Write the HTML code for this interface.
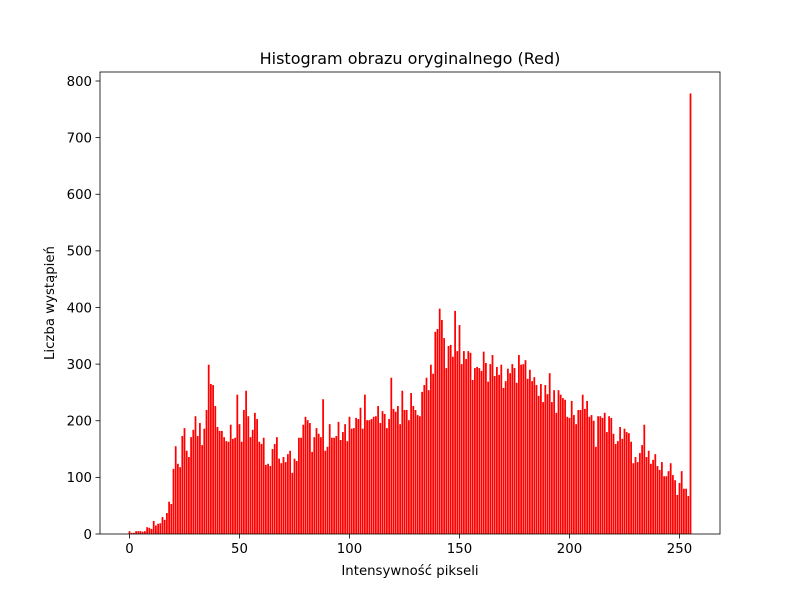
<!DOCTYPE html>
<html><head><meta charset="utf-8"><style>
body{margin:0;background:#fff}
svg text{font-family:"DejaVu Sans","Liberation Sans",sans-serif;fill:#000}
</style></head><body>
<svg id="chart" width="800" height="600" xmlns="http://www.w3.org/2000/svg">
<rect width="800" height="600" fill="#fff"/>
<g id="bars"></g>
<g id="axes"></g>
<text x="410" y="64" font-size="16" text-anchor="middle">Histogram obrazu oryginalnego (Red)</text>
<text x="410" y="575" font-size="13.3" text-anchor="middle">Intensywność pikseli</text>
<text x="54" y="303" font-size="13.3" text-anchor="middle" transform="rotate(-90 54 303)">Liczba wystąpień</text>
</svg>
<script>
const counts = [5,2,2,5,5,5,4,5,12,11,9,23,15,18,19,30,25,37,57,53,115,155,124,118,173,187,147,136,171,184,208,173,196,157,186,219,299,265,263,226,189,182,182,171,164,163,193,168,170,246,194,163,219,253,208,171,184,214,203,163,159,170,122,124,120,150,159,171,133,125,136,127,141,147,108,133,129,170,170,193,207,201,196,145,171,187,177,171,238,147,154,194,170,170,173,198,166,180,194,164,207,186,187,205,203,223,186,246,201,201,203,207,208,226,196,217,212,187,203,276,221,216,226,194,253,219,219,201,249,226,219,210,208,251,263,276,254,299,283,357,362,398,378,346,293,332,334,313,394,323,369,300,323,309,323,320,272,293,295,293,288,322,302,269,300,316,279,295,281,299,258,270,292,284,300,293,267,316,299,300,307,274,290,270,277,263,244,265,233,263,247,284,233,254,214,254,246,240,237,207,205,235,210,194,219,219,246,221,235,207,210,200,154,208,208,205,214,180,208,205,177,159,164,189,168,186,180,178,163,125,136,127,143,157,193,136,147,124,131,141,120,113,127,102,102,111,125,104,95,69,90,111,80,80,67,778];
const xTicks = [0,50,100,150,200,250];
const yTicks = [0,100,200,300,400,500,600,700,800];
const NS="http://www.w3.org/2000/svg";
const L=100,R=720,T=72,B=534;
const xs=v=>129.5+v*2.2;
const ys=v=>534-v*(453/800);
const bars=document.getElementById('bars');
counts.forEach((c,i)=>{
  const r=document.createElementNS(NS,'rect');
  
  
  r.setAttribute('x',xs(i-0.4));
  r.setAttribute('width',2.2*0.8);
  r.setAttribute('y',ys(c));
  r.setAttribute('height',B-ys(c));
  r.setAttribute('fill','#ff0000');
  bars.appendChild(r);
});
const ax=document.getElementById('axes');
const frame=document.createElementNS(NS,'rect');


frame.setAttribute('x',L);frame.setAttribute('y',T);
frame.setAttribute('width',R-L);frame.setAttribute('height',B-T);
frame.setAttribute('fill','none');frame.setAttribute('stroke','#000');frame.setAttribute('stroke-width','0.8');
ax.appendChild(frame);
xTicks.forEach(t=>{
  const l=document.createElementNS(NS,'line');
  
  
  l.setAttribute('x1',xs(t));l.setAttribute('x2',xs(t));l.setAttribute('y1',B);l.setAttribute('y2',B+4.5);
  l.setAttribute('stroke','#000');l.setAttribute('stroke-width','0.8');
  ax.appendChild(l);
  const tx=document.createElementNS(NS,'text');
  
  
  tx.setAttribute('x',xs(t));tx.setAttribute('y',B+19);
  tx.setAttribute('font-size','13.3');tx.setAttribute('text-anchor','middle');
  tx.textContent=t;ax.appendChild(tx);
});
yTicks.forEach(t=>{
  const l=document.createElementNS(NS,'line');
  
  
  l.setAttribute('x1',L-4.5);l.setAttribute('x2',L);l.setAttribute('y1',ys(t));l.setAttribute('y2',ys(t));
  l.setAttribute('stroke','#000');l.setAttribute('stroke-width','0.8');
  ax.appendChild(l);
  const tx=document.createElementNS(NS,'text');
  
  
  tx.setAttribute('x',L-8);tx.setAttribute('y',ys(t)+4.8);
  tx.setAttribute('font-size','13.3');tx.setAttribute('text-anchor','end');
  tx.textContent=t;ax.appendChild(tx);
});
</script>
</body></html>
